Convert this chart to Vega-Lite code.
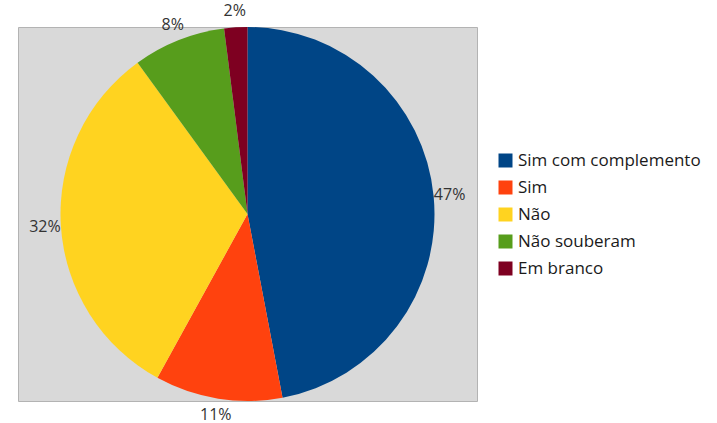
{
  "$schema": "https://vega.github.io/schema/vega-lite/v6.json",
  "autosize": "none",
  "width": 459,
  "height": 374,
  "padding": {"left": 18, "top": 27, "right": 240, "bottom": 22},
  "background": "white",
  "view": {"fill": "#d9d9d9", "stroke": "#b3b3b3", "strokeWidth": 1},
  "config": {
    "view": {"fill": "#d9d9d9", "stroke": "#b3b3b3", "strokeWidth": 1},
    "font": "Open Sans"
  },
  "data": {
    "values": [
      {"cat": "Sim com complemento", "pct": 47, "label": "47%", "idx": 1},
      {"cat": "Sim", "pct": 11, "label": "11%", "idx": 2},
      {"cat": "Não", "pct": 32, "label": "32%", "idx": 3},
      {"cat": "Não souberam", "pct": 8, "label": "8%", "idx": 4},
      {"cat": "Em branco", "pct": 2, "label": "2%", "idx": 5}
    ]
  },
  "encoding": {
    "theta": {"field": "pct", "type": "quantitative", "stack": true},
    "order": {"field": "idx", "type": "ordinal"}
  },
  "layer": [
    {
      "mark": {"type": "arc", "outerRadius": 187},
      "encoding": {
        "color": {
          "field": "cat",
          "type": "nominal",
          "sort": ["Sim com complemento", "Sim", "Não", "Não souberam", "Em branco"],
          "scale": {
            "domain": ["Sim com complemento", "Sim", "Não", "Não souberam", "Em branco"],
            "range": ["#004586", "#ff420e", "#ffd320", "#579d1c", "#7e0021"]
          },
          "legend": {
            "title": null,
            "orient": "none",
            "legendX": 479,
            "legendY": 125,
            "symbolType": "square",
            "symbolSize": 196,
            "symbolStrokeWidth": 0,
            "symbolOpacity": 1,
            "labelFont": "Open Sans",
            "labelFontSize": 17,
            "labelLimit": 300,
            "labelColor": "#1a1a1a",
            "labelOffset": 4,
            "rowPadding": 9
          }
        }
      }
    },
    {
      "mark": {"type": "text", "radius": 203, "font": "Open Sans", "fontSize": 16, "color": "#333333"},
      "encoding": {
        "text": {"field": "label", "type": "nominal"}
      }
    }
  ]
}
